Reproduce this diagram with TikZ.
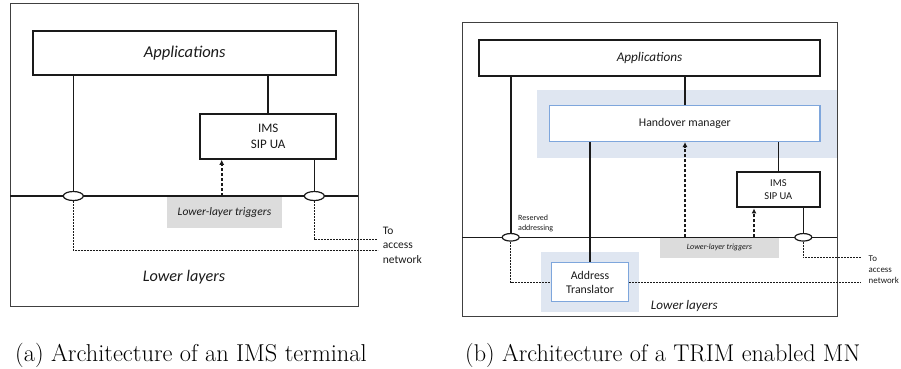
\documentclass[tikz,border=0pt]{standalone}
\usepackage{fontspec}
\newfontfamily\lbl{Carlito}
\usetikzlibrary{arrows.meta,shapes.geometric}
\definecolor{bgblue}{HTML}{DFE6F1}
\definecolor{edgeblue}{HTML}{7EA6DC}
\definecolor{trigray}{HTML}{DCDCDC}
\definecolor{ink}{HTML}{1A1A1A}
\tikzset{
  frame/.style={draw=black!75, line width=0.9pt, inner sep=0pt},
  layerbox/.style={draw=ink, line width=2.2pt, fill=white, inner sep=0pt, align=center, text=ink},
  bluebox/.style={draw=edgeblue, line width=1.4pt, fill=white, inner sep=0pt, align=center, text=ink},
  shade/.style={fill=bgblue, draw=none, inner sep=0pt},
  trigbox/.style={fill=trigray, draw=none, inner sep=0pt, text=ink},
  port/.style={ellipse, draw=ink, line width=1.2pt, fill=white, inner sep=0pt},
  link/.style={draw=ink, line width=1.6pt},
  bus/.style={draw=ink, line width=1.5pt},
  trigarrow/.style={draw=ink, line width=1.6pt, dash pattern=on 3pt off 2pt, -{Latex[length=5pt,width=5pt]}},
  access/.style={draw=ink, line width=0.9pt, dash pattern=on 2pt off 1pt},
  txt/.style={inner sep=0pt, text=ink},
  lab/.style 2 args={font={\lbl\fontsize{#1}{#2}\selectfont}},
}
\begin{document}
\begin{tikzpicture}[x=1pt, y=-1pt]
\useasboundingbox (0,0) rectangle (901,368);

% ---------- (a) IMS terminal ----------
\node[frame, minimum width=347.7pt, minimum height=303.4pt] (outerA) at (184.2,155) {};
\node[layerbox, lab={16.5}{18}, minimum width=302.7pt, minimum height=44.6pt] (appA) at (184.7,53)
  {\itshape Applications};
\node[layerbox, lab={13}{15.7}, minimum width=135.7pt, minimum height=44.7pt] (imsA) at (268.2,136.3)
  {IMS\\SIP UA};
\node[trigbox, lab={11.5}{13}, minimum width=115pt, minimum height=31.3pt] (trigA) at (224.5,212.3)
  {\itshape Lower-layer triggers};
\coordinate (busAl) at (10.3,196);
\coordinate (busAr) at (358,196);
\draw[bus] (busAl) -- (busAr);
\node[port, minimum width=20pt, minimum height=9pt] (portA1) at (73.3,196) {};
\node[port, minimum width=20pt, minimum height=9pt] (portA2) at (314.3,196) {};
\draw[link] (appA.south -| portA1) -- (portA1.north);
\draw[link] (appA.south -| imsA) -- (imsA.north);
\draw[link] (imsA.south -| portA2) -- (portA2.north);
\coordinate (tA) at (221.7,196);
\draw[trigarrow] (tA) -- (tA |- imsA.south);
\coordinate (netA1) at (377.7,239);
\coordinate (netA2) at (377.7,250.7);
\draw[access] (portA2.south) |- (netA1);
\draw[access] (portA1.south) |- (netA2);
\node[txt, lab={11.5}{14.7}, anchor=west, align=left] (toA) at (382.7,245.3)
  {To\\access\\network};
\node[txt, lab={16.2}{18}] (lowA) at (184,276.7) {\itshape Lower layers};

% ---------- (b) TRIM enabled MN ----------
\node[shade, minimum width=299.4pt, minimum height=67.7pt] (hmbg) at (687,123.85) {};
\node[shade, minimum width=97.7pt, minimum height=59.7pt] (atbg) at (589.85,281.85) {};
\node[frame, minimum width=375.3pt, minimum height=294.4pt] (outerB) at (649.65,169.5) {};
\node[layerbox, lab={13.2}{15}, minimum width=341pt, minimum height=35.7pt] (appB) at (649.5,57.85)
  {\itshape Applications};
\node[bluebox, lab={11.8}{14}, minimum width=270.3pt, minimum height=35.6pt] (hm) at (684.85,123.5)
  {Handover manager};
\node[layerbox, lab={10.5}{13}, minimum width=83.3pt, minimum height=35.6pt] (imsB) at (778.35,189.5)
  {IMS\\SIP UA};
\node[trigbox, lab={8}{9}, minimum width=118.7pt, minimum height=20.4pt] (trigB) at (719.35,247.5)
  {\itshape Lower-layer triggers};
\node[bluebox, lab={11.8}{14}, minimum width=76.6pt, minimum height=38.6pt] (at) at (590,282)
  {Address\\Translator};
\coordinate (busBl) at (462,237.3);
\coordinate (busBr) at (837.3,237.3);
\draw[bus] (busBl) -- (busBr);
\node[port, minimum width=17pt, minimum height=7.5pt] (portB1) at (510.7,237.3) {};
\node[port, minimum width=17pt, minimum height=7.5pt] (portB2) at (803.3,237.3) {};
\draw[link] (appB.south -| portB1) -- (portB1.north);
\draw[link] (appB.south -| hm) -- (hm.north);
\draw[link] (hm.south -| at) -- (at.north);
\draw[link] (hm.south -| imsB) -- (imsB.north);
\draw[link] (imsB.south -| portB2) -- (portB2.north);
\coordinate (tB1) at (685,237.3);
\coordinate (tB2) at (754,237.3);
\draw[trigarrow] (tB1) -- (tB1 |- hm.south);
\draw[trigarrow] (tB2) -- (tB2 |- imsB.south);
\coordinate (netB1) at (860.7,257.7);
\coordinate (netB2) at (860.7,282);
\draw[access] (portB1.south) |- (at.west);
\draw[access] (at.east) -- (netB2);
\draw[access] (portB2.south) |- (netB1);
\node[txt, lab={8.9}{11}, anchor=west, align=left] (toB) at (868.5,270)
  {To\\access\\network};
\node[txt, lab={8}{10.4}, anchor=west, align=left] (resB) at (518,223.5)
  {Reserved\\addressing};
\node[txt, lab={13.1}{15}] (lowB) at (684.3,305.7) {\itshape Lower layers};

% ---------- captions ----------
\node[inner sep=0pt, anchor=base west, font=\fontsize{24.4}{28}\selectfont] (capA) at (15,361)
  {(a)\ Architecture of an IMS terminal};
\node[inner sep=0pt, anchor=base west, font=\fontsize{24.2}{28}\selectfont] (capB) at (465,361)
  {(b)\ Architecture of a TRIM enabled MN};
\end{tikzpicture}
\end{document}
